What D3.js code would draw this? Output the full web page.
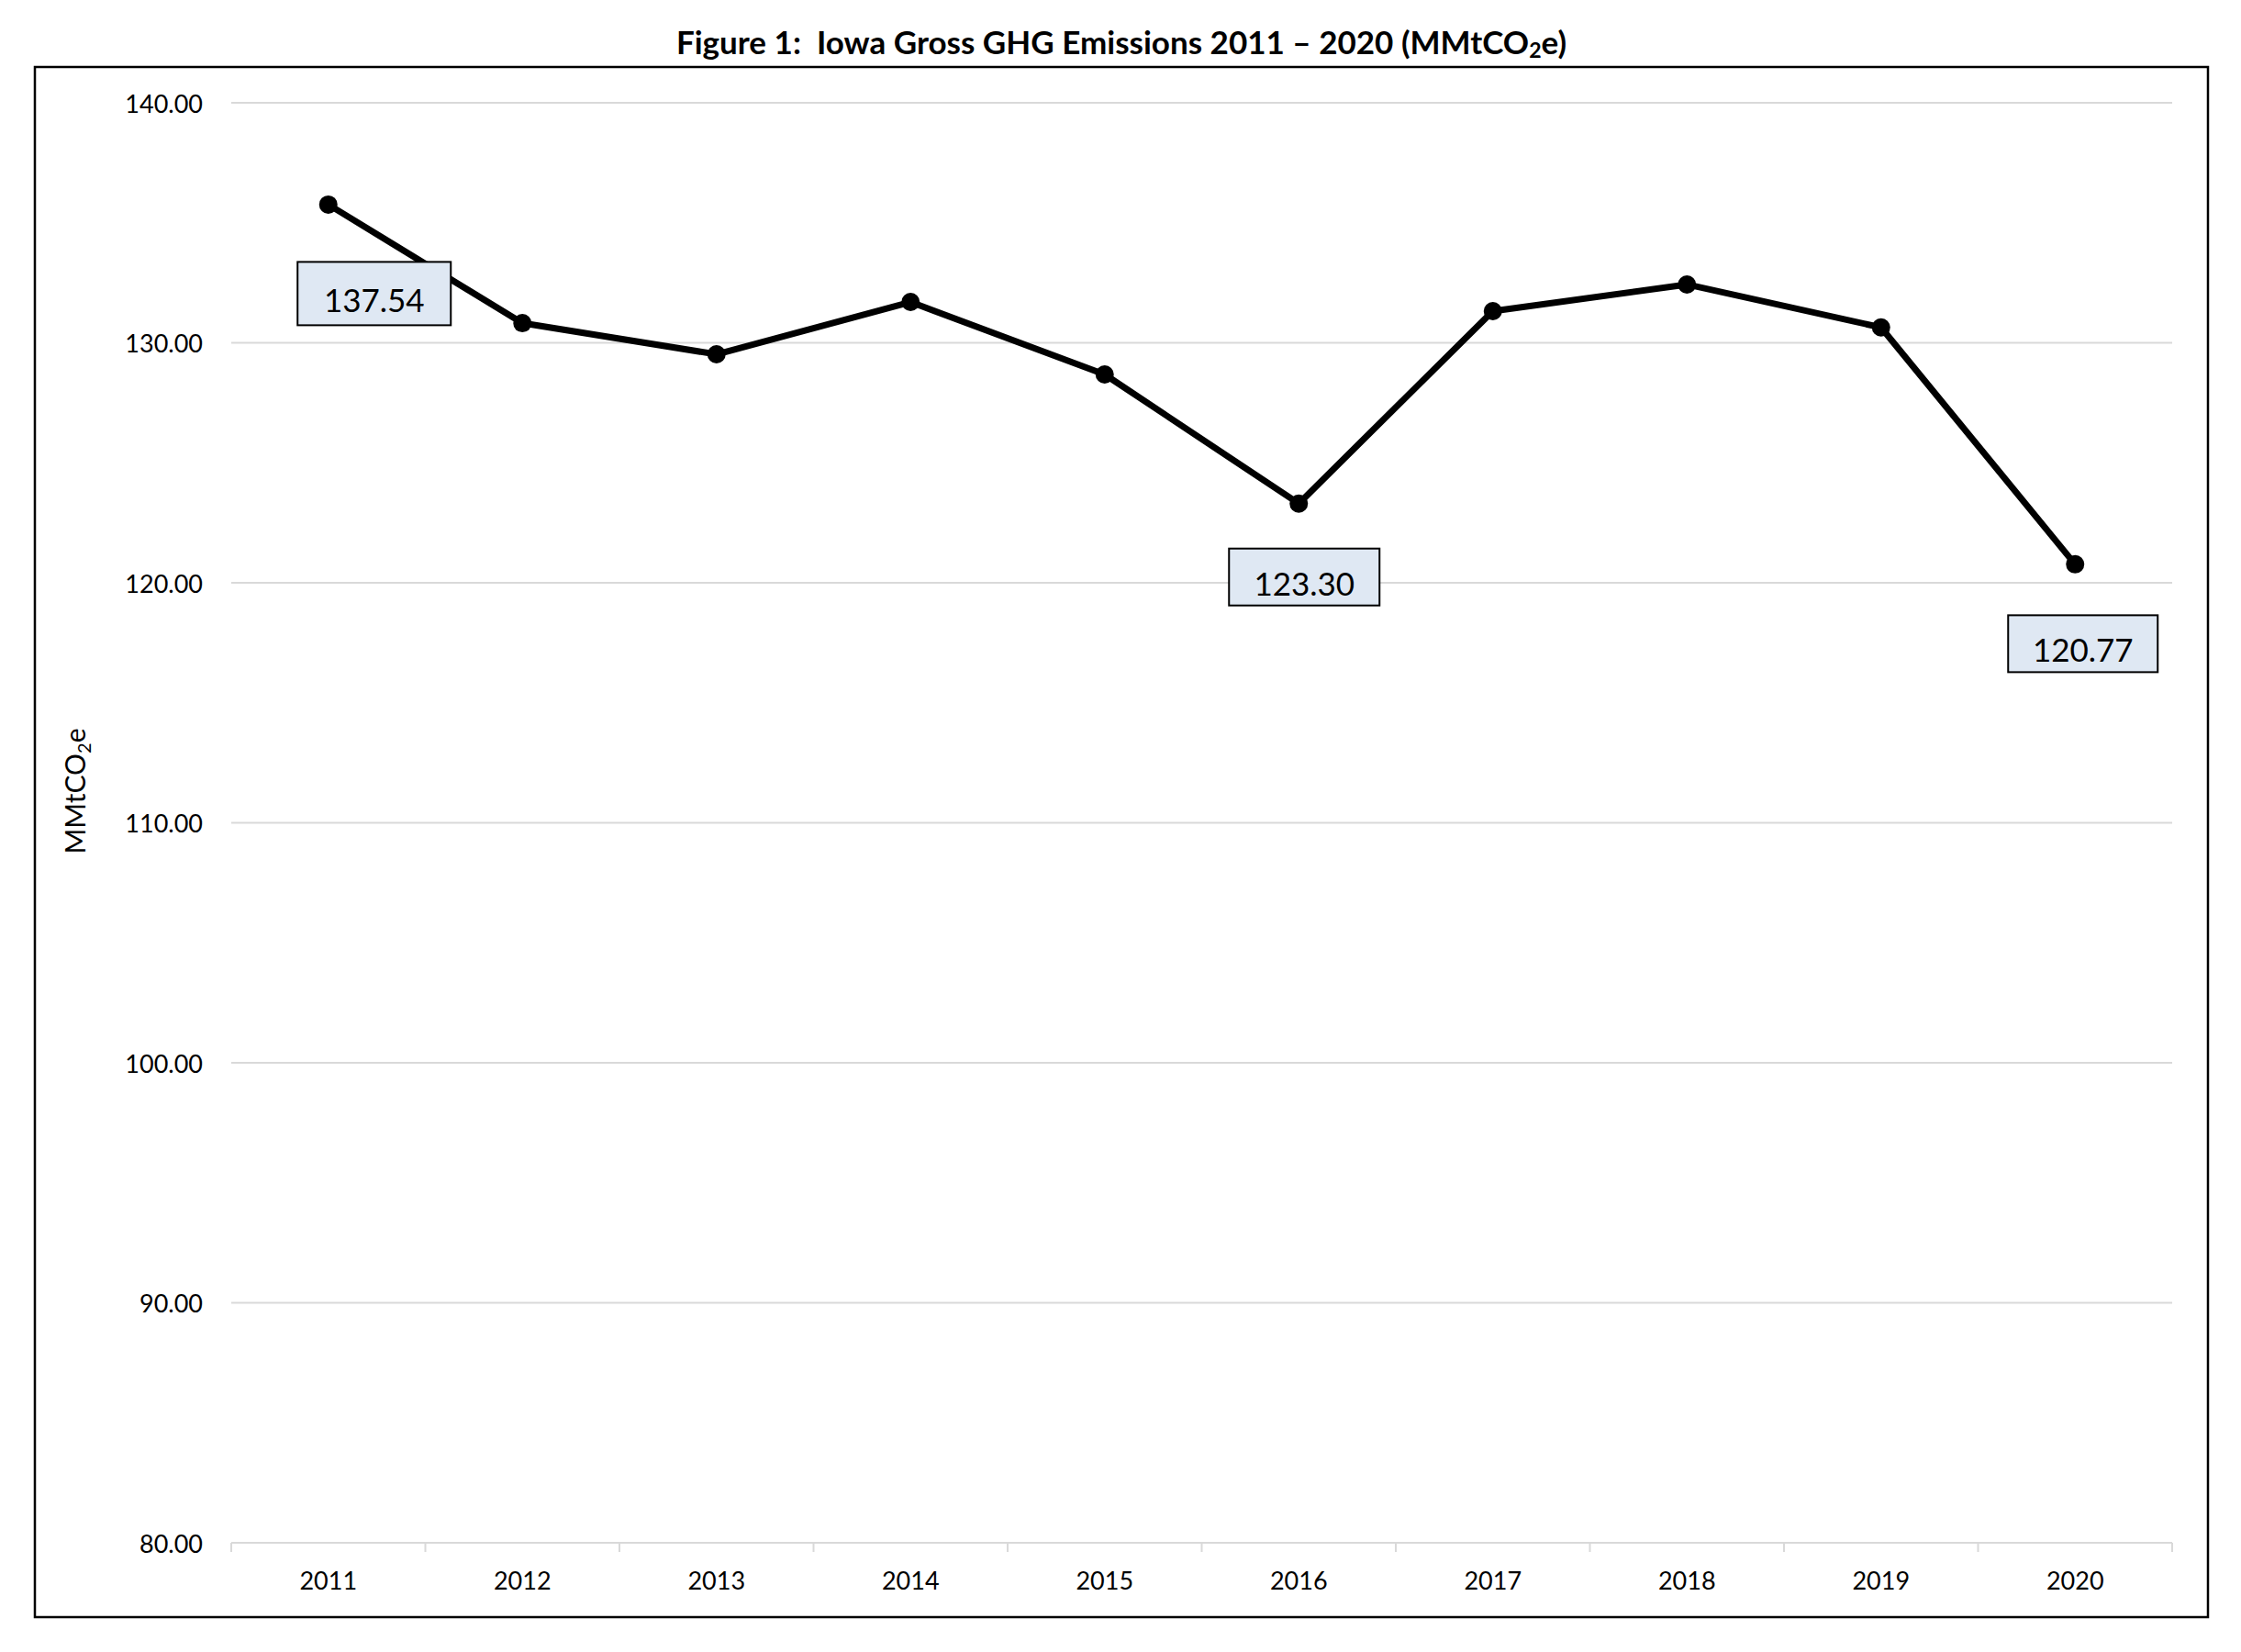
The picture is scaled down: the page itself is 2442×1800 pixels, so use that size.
<!DOCTYPE html>
<html>
<head>
<meta charset="utf-8">
<script src="https://cdn.jsdelivr.net/npm/d3@7"></script>
<style>
  html, body { margin: 0; padding: 0; background: #ffffff; }
  svg { display: block; }
  text { font-family: Lato, "Open Sans", sans-serif; fill: #000; }
</style>
</head>
<body>
<svg id="chart" width="2442" height="1800"></svg>
<script>
// ---- data ----
const years = ["2011", "2012", "2013", "2014", "2015", "2016", "2017", "2018", "2019", "2020"];
const emissions = [135.76, 130.82, 129.52, 131.70, 128.68, 123.30, 131.32, 132.43, 130.64, 120.77];
const yTicks = [80, 90, 100, 110, 120, 130, 140];
const labelYears = ["2011", "2016", "2020"];
const labelTexts = ["137.54", "123.30", "120.77"];
const titleMain = "Figure 1:  Iowa Gross GHG Emissions 2011 \u2013 2020 (MMtCO";
const titleSub = "2";
const titleEnd = "e)";
const yTitleParts = ["MMtCO", "2", "e"];

// ---- layout ----
const W = 2442, H = 1800;
const plot = { left: 252, right: 2367, top: 112, bottom: 1681 };
const labelOffsets = { "2011": [50, 97], "2016": [6, 80], "2020": [8.5, 86.5] };
const boxSize = { "2011": [167, 69], "2016": [164, 62], "2020": [163, 62] };

const svg = d3.select("#chart");
svg.append("rect").attr("width", W).attr("height", H).attr("fill", "#fff");

// outer frame
svg.append("rect")
  .attr("x", 38).attr("y", 73).attr("width", 2368).attr("height", 1689)
  .attr("fill", "none").attr("stroke", "#000").attr("stroke-width", 2.5);

// title
const title = svg.append("text")
  .attr("x", 1222).attr("y", 59)
  .attr("text-anchor", "middle")
  .style("white-space", "pre")
  .style("font-weight", "700")
  .style("font-size", "30px");
title.append("tspan").text(titleMain).style("white-space", "pre");
title.append("tspan").text(titleSub).style("font-size", "20px").attr("dy", 4);
title.append("tspan").text(titleEnd).attr("dy", -4);
// fit title to the reference width
const tw = title.node().getComputedTextLength();
const fs = 30 * 971 / tw;
title.style("font-size", fs + "px");
title.select("tspan:nth-child(2)").style("font-size", (fs * 0.66) + "px");

// scales
const x = d3.scaleBand().domain(years).range([plot.left, plot.right]).padding(0);
const y = d3.scaleLinear().domain([80, 140]).range([plot.bottom, plot.top]);

// gridlines
svg.append("g").selectAll("line").data(yTicks).join("line")
  .attr("x1", plot.left).attr("x2", plot.right)
  .attr("y1", d => y(d)).attr("y2", d => y(d))
  .attr("stroke", "#d9d9d9").attr("stroke-width", 2);

// y tick labels
svg.append("g").selectAll("text").data(yTicks).join("text")
  .attr("x", 221).attr("y", d => y(d))
  .attr("text-anchor", "end").attr("dominant-baseline", "central")
  .style("font-size", "27px")
  .text(d => d3.format(".2f")(d));

// x axis ticks at band boundaries
const bounds = years.map(d => x(d)).concat([x(years[years.length - 1]) + x.bandwidth()]);
svg.append("g").selectAll("line").data(bounds).join("line")
  .attr("x1", d => d).attr("x2", d => d)
  .attr("y1", plot.bottom).attr("y2", plot.bottom + 10)
  .attr("stroke", "#d9d9d9").attr("stroke-width", 2);

// x labels
svg.append("g").selectAll("text").data(years).join("text")
  .attr("x", d => x(d) + x.bandwidth() / 2).attr("y", 1732)
  .attr("text-anchor", "middle")
  .style("font-size", "27px")
  .text(d => d);

// y axis title
const yt = svg.append("text")
  .attr("transform", "translate(93,862) rotate(-90)")
  .attr("text-anchor", "middle")
  .style("font-size", "30px");
yt.append("tspan").text(yTitleParts[0]);
yt.append("tspan").text(yTitleParts[1]).style("font-size", "20px").attr("dy", 6);
yt.append("tspan").text(yTitleParts[2]).attr("dy", -6);

// line
const pts = years.map((d, i) => ({ year: d, v: emissions[i] }));
const line = d3.line().x(d => x(d.year) + x.bandwidth() / 2).y(d => y(d.v));
svg.append("path").datum(pts)
  .attr("d", line).attr("fill", "none")
  .attr("stroke", "#000").attr("stroke-width", 7).attr("stroke-linejoin", "round");

svg.append("g").selectAll("circle").data(pts).join("circle")
  .attr("cx", d => x(d.year) + x.bandwidth() / 2).attr("cy", d => y(d.v))
  .attr("r", 10).attr("fill", "#000");

// data label boxes
const labels = labelYears.map((yr, i) => ({ year: yr, text: labelTexts[i], v: emissions[years.indexOf(yr)] }));
const lg = svg.append("g").selectAll("g").data(labels).join("g")
  .attr("transform", d => {
    const cx = x(d.year) + x.bandwidth() / 2 + labelOffsets[d.year][0];
    const cy = y(d.v) + labelOffsets[d.year][1];
    return `translate(${cx},${cy})`;
  });
lg.append("rect")
  .attr("x", d => -boxSize[d.year][0] / 2).attr("y", d => -boxSize[d.year][1] / 2)
  .attr("width", d => boxSize[d.year][0]).attr("height", d => boxSize[d.year][1])
  .attr("fill", "#dfe8f3").attr("stroke", "#000").attr("stroke-width", 2);
lg.append("text")
  .attr("x", 0).attr("y", 20)
  .attr("text-anchor", "middle")
  .style("font-size", "35px")
  .text(d => d.text);
</script>
</body>
</html>
